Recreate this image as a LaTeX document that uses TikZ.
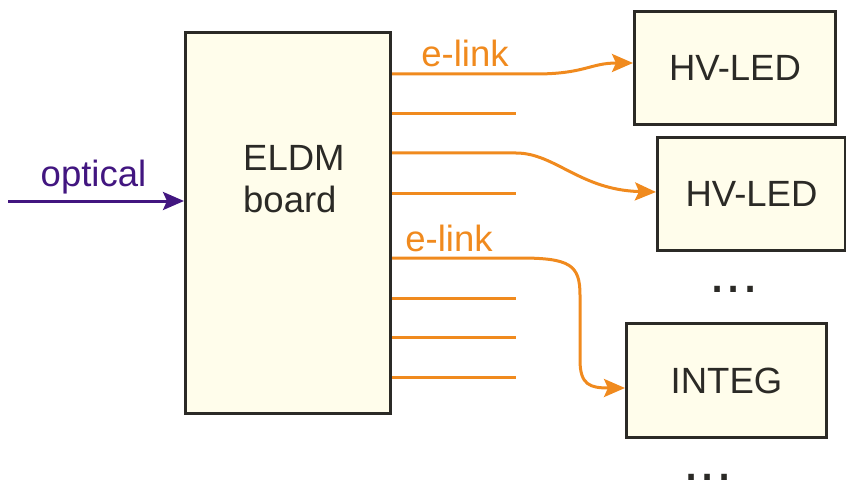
\documentclass[tikz,border=0pt]{standalone}
\usepackage{fontspec}
\setmainfont{Liberation Sans}
\usetikzlibrary{arrows.meta}
\definecolor{orng}{RGB}{240,138,30}
\definecolor{purp}{RGB}{66,22,128}
\definecolor{edge}{RGB}{43,42,38}
\definecolor{cream}{RGB}{255,253,235}
\begin{document}
\begin{tikzpicture}[x=1pt,y=-1pt,
  box/.style={draw=edge,fill=cream,line width=3pt,rectangle,inner sep=0pt,text=edge,font=\fontsize{36.5}{42}\selectfont},
  txt/.style={inner sep=0pt,font=\fontsize{36.5}{42}\selectfont},
  elink/.style={draw=orng,line width=3pt},
  elinkarrow/.style={elink,-{Stealth[length=21pt,width=18pt,inset=4pt]}},
  optarrow/.style={draw=purp,line width=3pt,-{Stealth[length=21pt,width=18pt,inset=4pt]}},
  dotstyle/.style={inner sep=0pt,text=edge,font=\fontsize{58}{60}\selectfont}]
\useasboundingbox (0,0) rectangle (846,484);
% boxes
\node[box,minimum width=205pt,minimum height=381pt] (eldm) at (288,223) {};
\node[txt,text=edge,align=left,anchor=base west] (eldmtext) at (243,212) {ELDM\\board};
\node[box,minimum width=201pt,minimum height=113pt] (hv1) at (735,68) {HV-LED};
\node[box,minimum width=188pt,minimum height=113pt] (hv2) at (751.5,194) {HV-LED};
\node[box,minimum width=200pt,minimum height=114pt] (integ) at (726.5,380.5) {INTEG};
% labels
\node[txt,text=orng,anchor=base] (el1) at (465,67) {e-link};
\node[txt,text=orng,anchor=base] (el2) at (449,251) {e-link};
\node[txt,text=purp,anchor=base] (opt) at (93.5,186) {optical};
\node[dotstyle,anchor=base] (dots1) at (734,292) {...};
\node[dotstyle,anchor=base] (dots2) at (708,480) {...};
% optical input
\coordinate (optin) at (8,201);
\draw[optarrow] (optin) -- (eldm.west |- optin);
% e-link stubs
\coordinate (s2) at (516,114);
\coordinate (s4) at (516,193);
\coordinate (s6) at (516,298);
\coordinate (s7) at (516,337);
\coordinate (s8) at (516,377);
\foreach \s in {s2,s4,s6,s7,s8}{
  \draw[elink] (eldm.east |- \s) -- (\s);
}
% e-link arrows
\coordinate (a1) at (535,74);
\draw[elinkarrow] (eldm.east |- a1) -- (a1) .. controls (585,74) and (590,63) .. ([yshift=5pt]hv1.west);
\coordinate (b1) at (516,153);
\draw[elinkarrow] (eldm.east |- b1) -- (b1) .. controls (555,153) and (580,190) .. ([yshift=2pt]hv2.west);
\coordinate (c1) at (520,258);
\draw[elinkarrow] (eldm.east |- c1) -- (c1) .. controls (570,258) and (580,265) .. (580,295) -- (580,360) .. controls (580,385) and (590,388) .. ([yshift=-7.5pt]integ.west);
\end{tikzpicture}
\end{document}
